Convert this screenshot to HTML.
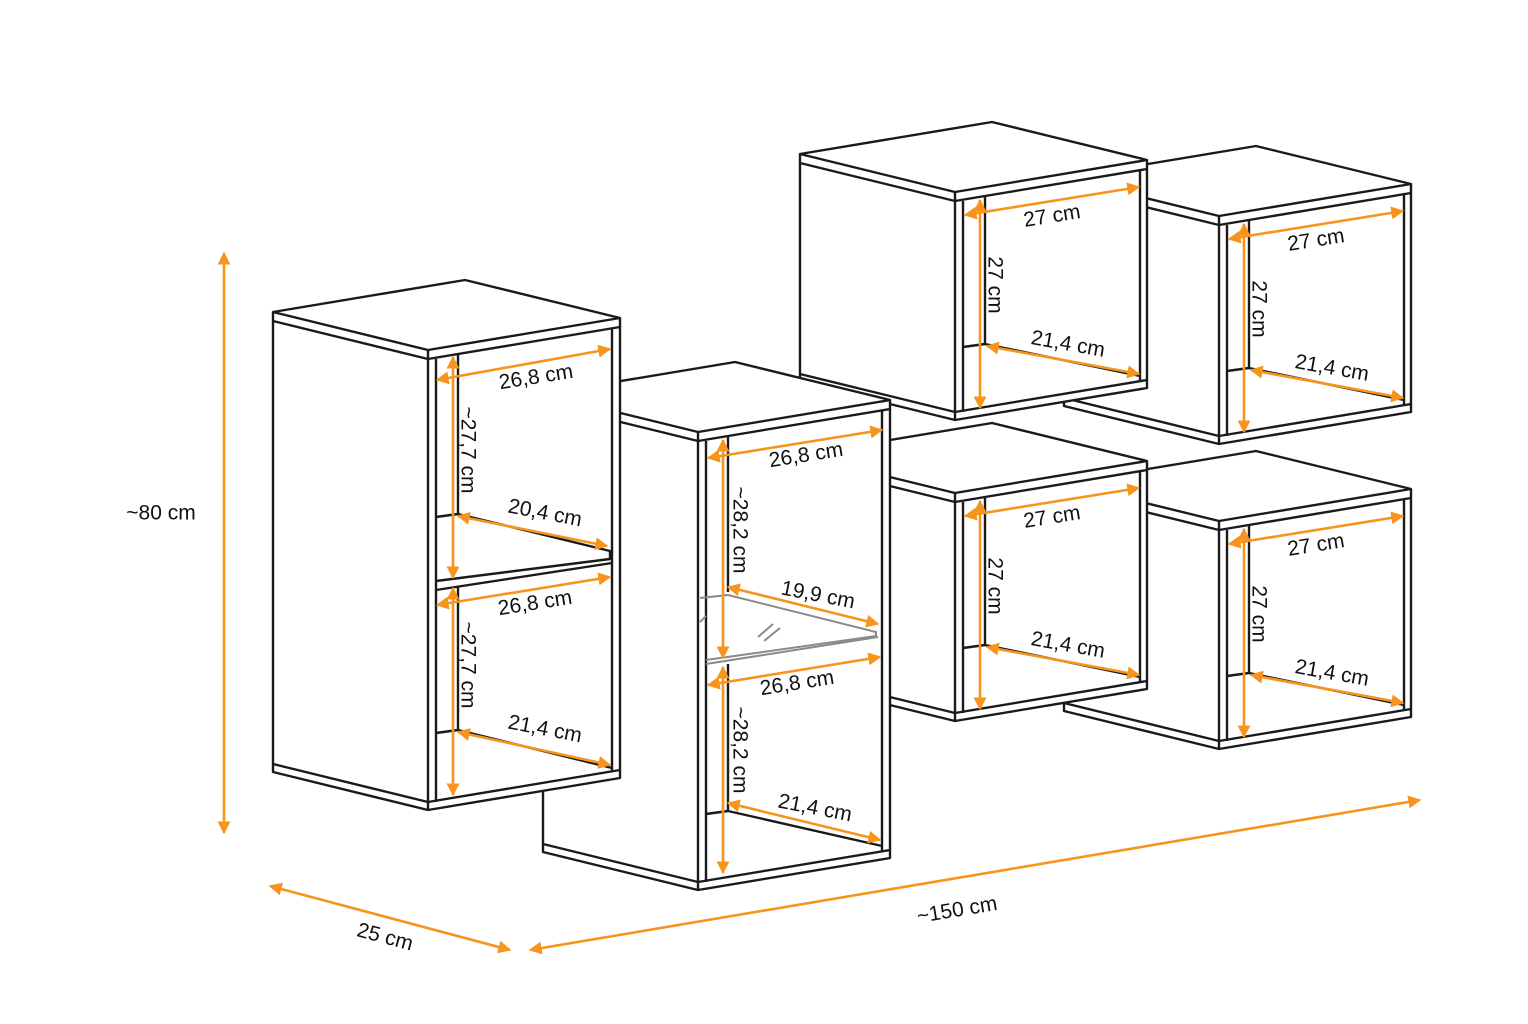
<!DOCTYPE html>
<html><head><meta charset="utf-8"><style>
html,body{margin:0;padding:0;background:#fff;}
svg{display:block;}
.k{fill:none;stroke:#1a1a1a;stroke-width:2.4;stroke-linejoin:round;}
.s{fill:#fff;stroke:#1a1a1a;stroke-width:2.4;stroke-linejoin:round;}
.g{fill:none;stroke:#8a8a8a;stroke-width:2;}
.o{fill:none;stroke:#f7941d;stroke-width:2.6;marker-start:url(#ah);marker-end:url(#ah);}
text{font-family:"Liberation Sans",sans-serif;font-size:21px;fill:#111;text-anchor:middle;dominant-baseline:central;}
</style></head><body>
<svg width="1528" height="1024" viewBox="0 0 1528 1024" xmlns="http://www.w3.org/2000/svg">
<defs>
<marker id="ah" viewBox="0 0 10 10" refX="9" refY="5" markerWidth="5" markerHeight="5" orient="auto-start-reverse" markerUnits="strokeWidth">
<path d="M0,0 L10,5 L0,10 z" fill="#f7941d"/></marker>
<g id="cube">
<polygon class="s" points="-155,-38 37,-70 192,-32 192,196 0,228 -155,190"/>
<polyline class="k" points="-155,-38 0,0 192,-32"/>
<polyline class="k" points="-155,-29 0,9 192,-23"/>
<line class="k" x1="0" y1="0" x2="0" y2="228"/>
<polyline class="k" points="-155,182 0,220 192,188"/>
<line class="k" x1="8" y1="9" x2="8" y2="220"/>
<line class="k" x1="185" y1="-22" x2="185" y2="189"/>
<line class="k" x1="30" y1="5" x2="30" y2="152"/>
<line class="k" x1="8" y1="155" x2="30" y2="152"/>
<line class="k" x1="30" y1="152" x2="185" y2="184"/>
<line class="o" x1="10" y1="23" x2="184" y2="-5"/>
<line class="o" x1="25" y1="8" x2="25" y2="216"/>
<line class="o" x1="32" y1="154" x2="184" y2="182"/>
<text transform="translate(97,24) rotate(-9)">27 cm</text>
<text transform="translate(40,93) rotate(90)">27 cm</text>
<text transform="translate(113,152) rotate(10)">21,4 cm</text>
</g>
</defs>

<use href="#cube" x="1219" y="216"/>
<use href="#cube" x="955" y="192"/>
<use href="#cube" x="1219" y="521"/>
<use href="#cube" x="955" y="493"/>

<!-- Unit B -->
<g transform="translate(698,432)">
<polygon class="s" points="-155,-38 37,-70 192,-32 192,426 0,458 -155,420"/>
<polyline class="k" points="-155,-38 0,0 192,-32"/>
<polyline class="k" points="-155,-29 0,9 192,-23"/>
<line class="k" x1="0" y1="0" x2="0" y2="458"/>
<polyline class="k" points="-155,412 0,450 192,418"/>
<line class="k" x1="8" y1="9" x2="8" y2="450"/>
<line class="k" x1="184" y1="-22" x2="184" y2="419"/>
<line class="k" x1="30" y1="5" x2="30" y2="160"/>
<line class="g" x1="2" y1="166" x2="30" y2="163"/>
<polyline class="g" points="30,163 178,200 178,204 8,228"/>
<line class="g" x1="8" y1="232" x2="180" y2="205"/>
<line class="g" x1="60" y1="205" x2="75" y2="192"/>
<line class="g" x1="66" y1="209" x2="82" y2="196"/>
<line class="g" x1="2" y1="190" x2="8" y2="184"/>
<line class="k" x1="30" y1="232" x2="30" y2="379"/>
<line class="k" x1="8" y1="382" x2="30" y2="379"/>
<line class="k" x1="30" y1="379" x2="184" y2="414"/>
<line class="o" x1="10" y1="26" x2="184" y2="-2"/>
<line class="o" x1="25" y1="8" x2="25" y2="226"/>
<line class="o" x1="30" y1="155" x2="180" y2="192"/>
<line class="o" x1="10" y1="253" x2="182" y2="225"/>
<line class="o" x1="25" y1="235" x2="25" y2="441"/>
<line class="o" x1="30" y1="371" x2="182" y2="408"/>
<text transform="translate(108,23) rotate(-9)">26,8 cm</text>
<text transform="translate(42,98) rotate(90)">~28,2 cm</text>
<text transform="translate(120,163) rotate(11)">19,9 cm</text>
<text transform="translate(99,251) rotate(-9)">26,8 cm</text>
<text transform="translate(42,318) rotate(90)">~28,2 cm</text>
<text transform="translate(117,376) rotate(11)">21,4 cm</text>
</g>

<!-- Unit A -->
<g transform="translate(428,350)">
<polygon class="s" points="-155,-38 37,-70 192,-32 192,428 0,460 -155,422"/>
<polyline class="k" points="-155,-38 0,0 192,-32"/>
<polyline class="k" points="-155,-29 0,9 192,-23"/>
<line class="k" x1="0" y1="0" x2="0" y2="460"/>
<polyline class="k" points="-155,414 0,452 192,420"/>
<line class="k" x1="8" y1="9" x2="8" y2="452"/>
<line class="k" x1="184" y1="-22" x2="184" y2="421"/>
<line class="k" x1="30" y1="5" x2="30" y2="164"/>
<line class="k" x1="8" y1="167" x2="30" y2="164"/>
<polyline class="k" points="30,164 182,201 182,209 8,231"/>
<line class="k" x1="8" y1="240" x2="184" y2="213"/>
<line class="k" x1="30" y1="237" x2="30" y2="380"/>
<line class="k" x1="8" y1="383" x2="30" y2="380"/>
<line class="k" x1="30" y1="380" x2="184" y2="418"/>
<line class="o" x1="9" y1="30" x2="182" y2="-1"/>
<line class="o" x1="25" y1="7" x2="25" y2="228"/>
<line class="o" x1="30" y1="166" x2="179" y2="196"/>
<line class="o" x1="9" y1="255" x2="182" y2="227"/>
<line class="o" x1="25" y1="238" x2="25" y2="445"/>
<line class="o" x1="30" y1="382" x2="182" y2="415"/>
<text transform="translate(108,27) rotate(-9)">26,8 cm</text>
<text transform="translate(40,100) rotate(90)">~27,7 cm</text>
<text transform="translate(117,163) rotate(11)">20,4 cm</text>
<text transform="translate(107,253) rotate(-9)">26,8 cm</text>
<text transform="translate(40,315) rotate(90)">~27,7 cm</text>
<text transform="translate(117,379) rotate(11)">21,4 cm</text>
</g>

<!-- overall -->
<line class="o" x1="224" y1="253" x2="224" y2="833"/>
<text x="161" y="513">~80 cm</text>
<line class="o" x1="270" y1="886" x2="510" y2="950"/>
<text transform="translate(385,937) rotate(15)">25 cm</text>
<line class="o" x1="530" y1="950" x2="1420" y2="800"/>
<text transform="translate(957,910) rotate(-9.5)">~150 cm</text>
</svg>
</body></html>
